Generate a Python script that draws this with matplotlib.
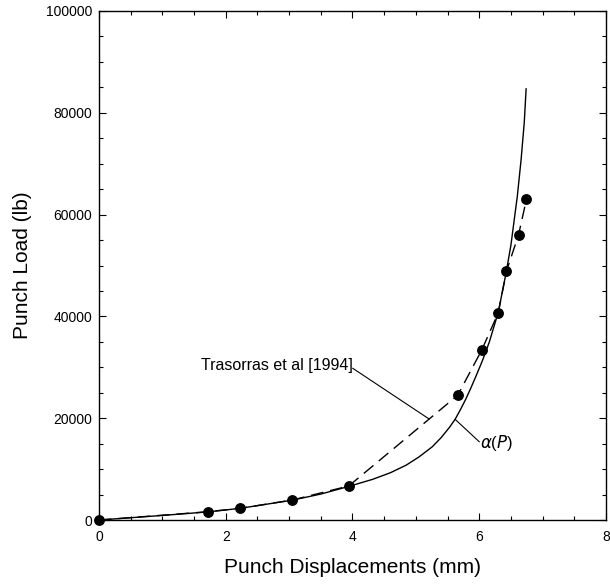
import matplotlib
matplotlib.use("Agg")
import matplotlib.pyplot as plt
from matplotlib.ticker import MultipleLocator

plt.rcParams['font.family'] = ['Liberation Sans', 'DejaVu Sans']

# Measured punch load vs displacement (Trasorras et al 1994)
test_disp = [0.0, 1.72, 2.23, 3.05, 3.94, 5.66, 6.04, 6.30, 6.43, 6.62, 6.745]
test_load = [0, 1630, 2300, 3930, 6680, 24500, 33400, 40700, 48900, 56000, 63000]

# Predicted curve alpha(P)
model_disp = [0.0, 1.0, 1.72, 2.23, 3.05, 3.5, 3.94, 4.32, 4.6, 4.85, 5.05, 5.26,
              5.4, 5.53, 5.62, 5.7, 5.79, 5.87, 5.95, 6.05, 6.16, 6.3, 6.42, 6.5,
              6.56, 6.6, 6.66, 6.71, 6.74]
model_load = [0, 900, 1600, 2300, 3900, 5100, 6600, 8000, 9300, 10800, 12400, 14400,
              16200, 18200, 19800, 21600, 23800, 26000, 28300, 31300, 35000, 40800,
              48300, 54000, 59700, 63500, 70700, 78000, 84700]

fig = plt.figure(figsize=(6.1, 5.87), dpi=100)
ax = fig.add_axes([0.1623, 0.1141, 0.8311, 0.8672])

ax.plot(model_disp, model_load, color='black', lw=1.0)
ax.plot(test_disp, test_load, color='black', lw=1.0, dashes=(9, 5),
        marker='o', markersize=6.8, markerfacecolor='black', markeredgecolor='black',
        clip_on=False, zorder=3)

# callout labels
ax.plot([4.005, 5.21], [29800, 19840], color='black', lw=0.8)
ax.text(4.0, 30300, 'Trasorras et al [1994]', ha='right', va='center', fontsize=11.5)
ax.plot([5.62, 6.0], [19780, 15380], color='black', lw=0.8)
ax.text(6.02, 15200, r'$\alpha$($P$)', ha='left', va='center', fontsize=12)

ax.set_xlim(0, 8)
ax.set_ylim(0, 100000)
ax.xaxis.set_major_locator(MultipleLocator(2))
ax.xaxis.set_minor_locator(MultipleLocator(0.5))
ax.yaxis.set_major_locator(MultipleLocator(20000))
ax.yaxis.set_minor_locator(MultipleLocator(5000))
ax.tick_params(which='both', direction='in', top=True, right=True, labelsize=10, width=0.8)
ax.tick_params(which='major', length=5)
ax.tick_params(which='minor', length=3)
ax.tick_params(axis='x', pad=7)
ax.tick_params(axis='y', pad=5)
for s in ax.spines.values():
    s.set_linewidth(1.0)

ax.set_xlabel('Punch Displacements (mm)', fontsize=15, labelpad=10)
ax.set_ylabel('Punch Load (lb)', fontsize=15, labelpad=10)

fig.savefig('out.png', dpi=100)
